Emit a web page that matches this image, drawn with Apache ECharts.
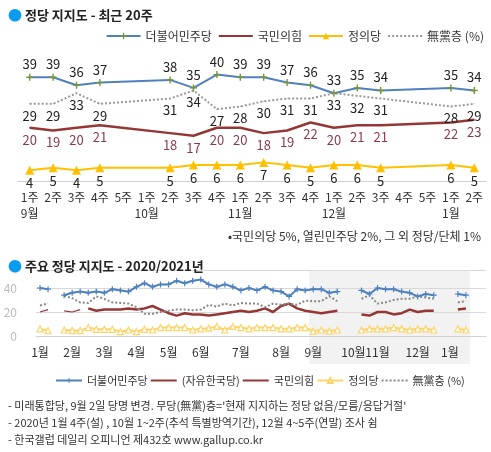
<!DOCTYPE html>
<html><head><meta charset="utf-8">
<script src="https://cdn.jsdelivr.net/npm/echarts@6/dist/echarts.min.js"></script>
<style>body{margin:0;background:#fff;}#a{width:491px;height:245px;}#b{width:491px;height:207px;}</style>
</head><body><div id="a"></div><div id="b"></div>
<script>
// ---- top chart data (최근 20주)
const weeks = ['1주','2주','3주','4주','5주','1주','2주','3주','4주','1주','2주','3주','4주','1주','2주','3주','4주','5주','1주','2주'];
const monthAt = {0:'9월',5:'10월',9:'11월',13:'12월',18:'1월'};
const topDem = [39,39,36,37,null,null,38,35,40,39,39,37,36,33,35,34,null,null,35,34];
const topNone = [29,29,33,29,null,null,31,34,27,28,30,31,31,33,32,31,null,null,28,29];
const topPPP = [20,19,20,21,null,null,18,17,20,20,18,19,22,20,21,21,null,null,22,23];
const topJus = [4,5,4,5,null,null,5,6,6,6,7,6,5,6,6,5,null,null,6,5];

// ---- bottom chart data (2020/2021 weekly)
const botMonthAt = {0:'1월',4:'2월',8:'3월',12:'4월',16:'5월',20:'6월',25:'7월',30:'8월',34:'9월',39:'10월',42:'11월',47:'12월',51:'1월'};
const botDem = [40,39,null,34,36,37,36,37,36,39,38,37,41,44,41,43,43,46,44,46,47,43,41,43,41,38,40,38,41,38,37,33,39,38,
  39,39,36,37,null,null,38,35,40,39,39,37,36,33,35,34,null,null,35,34];
const botLKP = [20,22,null,21,20,22];
const botPPP = [null,null,null,null,null,null,23,21,22,22,22,23,22,23,25,22,19,17,19,18,18,17,18,19,20,21,20,21,23,20,25,27,23,21,
  20,19,20,21,null,null,18,17,20,20,18,19,22,20,21,21,null,null,22,23];
const botJus = [6,4.5,null,5,4.5,4.5,7,5.6,5.6,5.6,3.6,5,3.6,5.6,5,7,7,7,7,5,6,6.5,8,5,8,7,6,7,7,7,6,6,7,7,
  4,5,4,5,null,null,5,6,6,6,7,6,5,6,6,5,null,null,6,5];
const botNone = [25.5,27,null,33.5,31.5,28,27.5,33,31,28,27.5,27,24,18.5,18.5,20,21,22,22,21.5,22,26,24.5,27,25.5,27.5,27,27,24,27,26,27,26,29.5,
  29,29,33,29,null,null,31,34,27,28,30,31,31,33,32,31,null,null,28,29];
const botCats = Array.from({length:56},(_,i)=>String(i));

const F = '"Noto Sans CJK KR","Noto Sans",sans-serif';
const BLUE='#4f81bd', RED='#953735', YEL='#ffc000', GREY='#9a9a9a';
const plus = 'path://M4 0h2v4h4v2H6v4H4V6H0V4h4z';
const noSym = {itemStyle:{opacity:0}};

const a = echarts.init(document.getElementById('a'));
a.setOption({
  textStyle:{fontFamily:F},
  title:{text:'{d|●} 정당 지지도 - 최근 20주',left:3,top:3,textStyle:{fontSize:13,fontWeight:'bold',color:'#222',fontFamily:F,
    rich:{d:{color:'#0a9cf0',fontSize:14}}}},
  legend:{right:2,top:25,itemWidth:34,itemHeight:8,itemGap:6,textStyle:{fontSize:12,color:'#333',fontFamily:F},
    data:['더불어민주당',Object.assign({name:'국민의힘'},noSym),'정의당',Object.assign({name:'無黨층 (%)'},noSym)]},
  grid:{left:18,right:5,top:48,bottom:64},
  xAxis:{type:'category',data:weeks,boundaryGap:true,
    axisLine:{lineStyle:{color:'#d0d0d0'}},axisTick:{length:4,lineStyle:{color:'#d0d0d0'}},
    axisLabel:{interval:0,margin:8,fontSize:12,color:'#333',lineHeight:16,fontFamily:F,
      formatter:(v,i)=>v+'\n'+(monthAt[i]||' ')}},
  yAxis:{type:'value',min:0,max:50,show:false},
  series:[
    {name:'더불어민주당',type:'line',data:topDem,connectNulls:true,lineStyle:{color:BLUE,width:2},itemStyle:{color:'#77933c'},
      symbol:plus,symbolSize:7,labelLayout:{hideOverlap:false},label:{show:true,position:'top',distance:3,fontSize:13,color:'#222'}},
    {name:'국민의힘',type:'line',data:topPPP,connectNulls:true,lineStyle:{color:RED,width:2.5},itemStyle:{color:RED},
      symbol:'circle',symbolSize:1,showSymbol:true,labelLayout:{hideOverlap:false},label:{show:true,position:'bottom',distance:5,fontSize:13,color:'#8b3a4e'}},
    {name:'정의당',type:'line',data:topJus,connectNulls:true,lineStyle:{color:YEL,width:2},itemStyle:{color:YEL},
      symbol:'triangle',symbolSize:9,labelLayout:{hideOverlap:false},label:{show:true,position:'bottom',distance:2,fontSize:13,color:'#222'}},
    {name:'無黨층 (%)',type:'line',data:topNone,connectNulls:true,lineStyle:{color:GREY,width:2,type:'dotted'},itemStyle:{color:GREY},
      symbol:'circle',symbolSize:1,showSymbol:true,labelLayout:{hideOverlap:false},label:{show:true,position:'bottom',distance:5,fontSize:13,color:'#222'}}
  ],
  graphic:[{type:'text',right:10,top:230,style:{text:'•국민의당 5%, 열린민주당 2%, 그 외 정당/단체 1%',fontSize:12,fill:'#333',fontFamily:F}}]
});

const b = echarts.init(document.getElementById('b'));
b.setOption({
  textStyle:{fontFamily:F},
  title:{text:'{d|●} 주요 정당 지지도 - 2020/2021년',left:3,top:9,textStyle:{fontSize:13,fontWeight:'bold',color:'#222',fontFamily:F,
    rich:{d:{color:'#0a9cf0',fontSize:14}}}},
  legend:{left:50,right:0,top:125,itemWidth:26,itemHeight:6,itemGap:2,textStyle:{fontSize:11,color:'#333',fontFamily:F},
    data:['더불어민주당',Object.assign({name:'(자유한국당)'},noSym),Object.assign({name:'국민의힘'},noSym),'정의당',Object.assign({name:'無黨층 (%)'},noSym)]},
  grid:{left:36,right:5,top:25,bottom:116},
  xAxis:{type:'category',data:botCats,boundaryGap:true,
    axisLine:{lineStyle:{color:'#d0d0d0'}},axisTick:{interval:0,length:4,lineStyle:{color:'#d0d0d0'}},
    axisLabel:{interval:0,margin:10,fontSize:12,color:'#333',fontFamily:F,formatter:(v,i)=>botMonthAt[i]||''}},
  yAxis:{type:'value',min:0,max:55,interval:20,axisLabel:{fontSize:12,color:'#bbb',margin:19,showMaxLabel:false},
    splitLine:{lineStyle:{color:'#d9d9d9'}}},
  series:[
    {name:'더불어민주당',type:'line',data:botDem,lineStyle:{color:BLUE,width:2},itemStyle:{color:BLUE},symbol:plus,symbolSize:6,z:5},
    {name:'(자유한국당)',type:'line',data:botLKP,lineStyle:{color:RED,width:1.2},itemStyle:{color:RED},symbol:'none'},
    {name:'국민의힘',type:'line',data:botPPP,lineStyle:{color:RED,width:2.5},itemStyle:{color:RED},symbol:'none'},
    {name:'정의당',type:'line',data:botJus,lineStyle:{color:'#fdd468',width:2},itemStyle:{color:'#fff',borderColor:'#fdd468',borderWidth:1.2},
      symbol:'triangle',symbolSize:6},
    {name:'無黨층 (%)',type:'line',data:botNone,lineStyle:{color:'#888',width:2,type:'dotted'},itemStyle:{color:'#888'},symbol:'none'}
  ]
});
// shaded last-20-weeks band (extends down through month labels)
const x0 = b.convertToPixel({xAxisIndex:0},34) - 4, x1 = b.convertToPixel({xAxisIndex:0},53) + 4;
b.setOption({graphic:[
  {type:'rect',z:-10,silent:true,shape:{x:x0,y:25,width:x1-x0,height:94},style:{fill:'#f2f2f2'}},
  {type:'text',left:8,top:155,style:{text:"- 미래통합당, 9월 2일 당명 변경. 무당(無黨)층='현재 지지하는 정당 없음/모름/응답거절'",fontSize:11,fill:'#333',fontFamily:F}},
  {type:'text',left:8,top:172,style:{text:'- 2020년 1월 4주(설) , 10월 1~2주(추석 특별방역기간), 12월 4~5주(연말) 조사 쉼',fontSize:11,fill:'#333',fontFamily:F}},
  {type:'text',left:8,top:189,style:{text:'- 한국갤럽 데일리 오피니언 제432호 www.gallup.co.kr',fontSize:11,fill:'#333',fontFamily:F}}
]});
</script></body></html>
